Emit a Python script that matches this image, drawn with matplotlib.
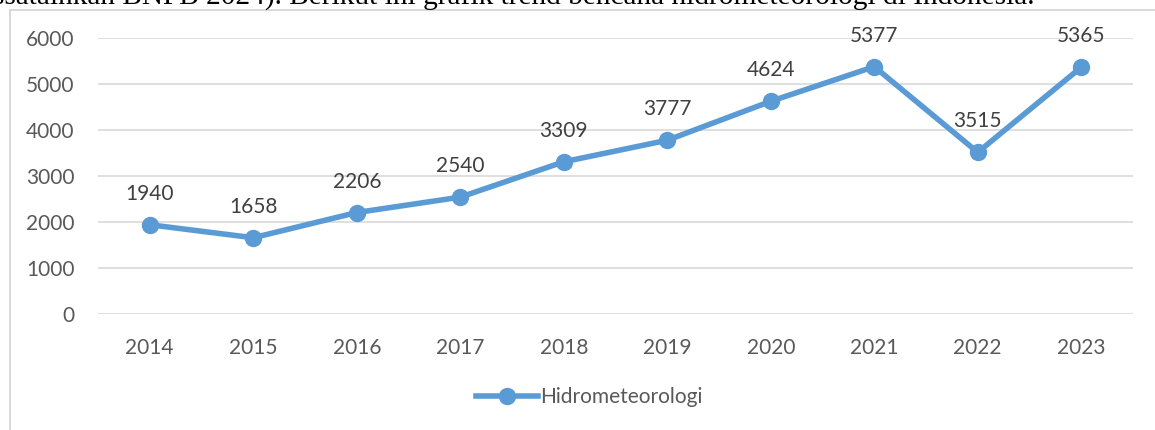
import matplotlib
matplotlib.use("Agg")
import matplotlib.pyplot as plt
from matplotlib.patches import Rectangle
from matplotlib.lines import Line2D

years = ["2014", "2015", "2016", "2017", "2018", "2019", "2020", "2021", "2022", "2023"]
values = [1940, 1658, 2206, 2540, 3309, 3777, 4624, 5377, 3515, 5365]
yticks = [0, 1000, 2000, 3000, 4000, 5000, 6000]
series_name = "Hidrometeorologi"
caption = "ssatainkan BNPB 2024). Berikut ini grafik trend bencana hidrometeorologi di Indonesia."

W, H = 1155, 430
fig = plt.figure(figsize=(W / 100, H / 100), dpi=100)
fig.patch.set_facecolor("white")

# chart border
fig.add_artist(Rectangle((10 / W, -0.1), 1.2, (H - 9.5) / H + 0.1, transform=fig.transFigure,
                         fill=False, edgecolor="#D9D9D9", linewidth=1.4))
# caption text (partially cut off at top)
fig.text(-7 / W, 1 - 5 / H, caption, family="Liberation Serif", fontsize=21.2,
         color="black", va="baseline", ha="left")

FS = 15
ax = fig.add_axes([98 / W, 1 - 314 / H, (1133 - 98) / W, (314 - 38) / H])
ax.set_facecolor("none")
x = list(range(len(years)))
ax.plot(x, values, color="#5B9BD5", linewidth=4, marker="o", markersize=11.5,
        solid_capstyle="round", solid_joinstyle="round", label=series_name, zorder=3)
ax.set_xlim(-0.5, len(years) - 0.5)
ax.set_ylim(0, 6000)
ax.set_yticks(yticks)
ax.set_xticks(x)
ax.set_xticklabels(years)
ax.grid(axis="y", color="#D9D9D9", linewidth=1.2)
ax.set_axisbelow(True)
for s in ax.spines.values():
    s.set_visible(False)
ax.tick_params(length=0, labelsize=FS, labelcolor="#595959")
ax.tick_params(axis="y", pad=17)
ax.tick_params(axis="x", pad=17)
for lab in ax.get_xticklabels() + ax.get_yticklabels():
    lab.set_family("Lato")

for xi, v in zip(x, values):
    ax.annotate(str(v), (xi, v), xytext=(0, 15), textcoords="offset points",
                ha="center", va="bottom", fontsize=FS, color="#404040", family="Lato")

fig.legend(handles=[Line2D([], [], color="#5B9BD5", linewidth=4, marker="o", markersize=11.5)],
           labels=[series_name], loc="center", bbox_to_anchor=(589 / W, 1 - 397 / H),
           frameon=False, prop={"family": "Lato", "size": FS}, handlelength=3.0,
           handletextpad=0.1, labelcolor="#595959")

fig.savefig("out.png", dpi=100)
